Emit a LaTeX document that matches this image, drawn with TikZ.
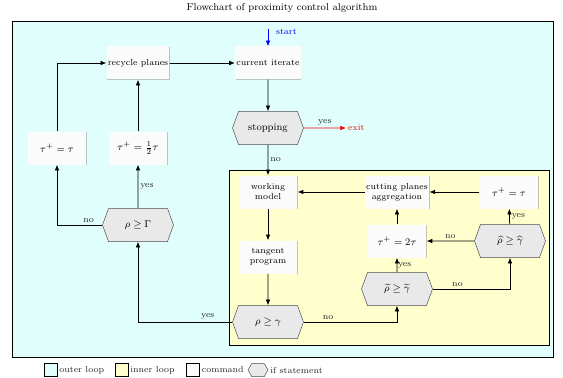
\documentclass[tikz,border=0pt]{standalone}
\usepackage{tikz}
\usetikzlibrary{positioning,shapes.symbols,arrows.meta,shadows}
\usepackage{amsmath}

\definecolor{outerbg}{RGB}{224,255,252}
\definecolor{innerbg}{RGB}{255,255,206}
\definecolor{cmdbg}{RGB}{251,251,251}
\definecolor{ifbg}{RGB}{233,233,233}

\begin{document}
\begin{tikzpicture}[
  x=0.8pt, y=-0.8pt,
  font=\scriptsize,
  outer/.style    = {draw, line width=0.8pt, fill=outerbg},
  inner/.style    = {draw, line width=0.8pt, fill=innerbg},
  command/.style  = {fill=cmdbg, minimum width=47pt, minimum height=26.4pt,
                     align=center, inner sep=1pt,
                     drop shadow={shadow xshift=0.5pt, shadow yshift=-0.7pt,
                                  opacity=0.45}},
  mathcmd/.style  = {command, font=\footnotesize},
  ifstmt/.style   = {draw=gray!60!black, fill=ifbg, signal,
                     signal to=west and east, signal pointer angle=140,
                     minimum width=56.8pt, minimum height=26.4pt,
                     inner sep=1pt, font=\footnotesize},
  flow/.style     = {-{Latex[length=1.6mm,width=1.3mm]}, line width=0.6pt},
  lbl/.style      = {font=\scriptsize, inner sep=1.5pt, text=black!85},
  keybox/.style   = {draw, minimum size=10.4pt, inner sep=0pt},
]
\useasboundingbox (0,0) rectangle (563,378);

\node[font=\footnotesize] (title) at (282,8)
      {Flowchart of proximity control algorithm};

% ===== loops (backgrounds) =====
\draw[outer] (12,22) rectangle (553,357);
\draw[inner] (229,170) rectangle (549,345);

% ===== outer loop =====
\coordinate (start) at (268,29);
\node[lbl, text=blue, anchor=west] at (274,32) {start};
\node[command] (curr)    at (268,63)  {current iterate};
\node[command] (recycle) at (138,63)  {recycle planes};
\node[ifstmt]  (stop)    at (268,128) {stopping};
\node[lbl, text=red, anchor=west] (exit) at (346,128) {exit};
\node[ifstmt]  (bigG)    at (138,225) {$\rho \geq \Gamma$};
\node[mathcmd] (halftau) at (138,148) {$\tau^+ = \frac{1}{2}\tau$};
\node[mathcmd] (samtau)  at (57,148)  {$\tau^+ = \tau$};

% ===== inner loop =====
\node[command] (model)   at (268,192) {working\\model};
\node[command] (tangent) at (268,257) {tangent\\program};
\node[ifstmt]  (rhogam)  at (268,322) {$\rho \geq \gamma$};
\node[ifstmt]  (tilde)   at (397,289)
      {$\widetilde{\rho} \geq \widetilde{\gamma}$};
\node[mathcmd] (twotau)  at (397,241) {$\tau^+ = 2\tau$};
\node[command] (aggr)    at (397,192) {cutting planes\\aggregation};
\node[mathcmd] (keeptau) at (509,192) {$\tau^+ = \tau$};
\node[ifstmt]  (hat)     at (510,241)
      {$\widehat{\rho} \geq \widehat{\gamma}$};

% ===== connectors =====
\draw[flow, blue] (start) -- (curr);
\draw[flow] (recycle) -- (curr);
\draw[flow] (curr) -- (stop);
\draw[flow, red] (stop) -- (exit)
   node[midway, above, lbl] {yes};
\draw[flow] (stop) -- (model)
   node[midway, right, lbl] {no};
\draw[flow] (model) -- (tangent);
\draw[flow] (tangent) -- (rhogam);
\draw[flow] (rhogam.east) -| (tilde.south)
   node[pos=0.13, above, lbl] {no};
\draw[flow] (rhogam.west) -| (bigG.south)
   node[pos=0.13, above, lbl] {yes};
\draw[flow] (tilde) -- (twotau)
   node[midway, right, lbl, inner sep=0.5pt] {yes};
\draw[flow] (tilde.east) -| (hat.south)
   node[pos=0.16, above, lbl] {no};
\draw[flow] (hat) -- (twotau)
   node[midway, above, lbl] {no};
\draw[flow] (hat) -- (keeptau)
   node[midway, right, lbl] {yes};
\draw[flow] (keeptau) -- (aggr);
\draw[flow] (twotau) -- (aggr);
\draw[flow] (aggr) -- (model);
\draw[flow] (bigG) -- (halftau)
   node[midway, right, lbl] {yes};
\draw[flow] (bigG.west) -| (samtau.south)
   node[pos=0.15, above, lbl] {no};
\draw[flow] (halftau) -- (recycle);
\draw[flow] (samtau.north) |- (recycle.west);

% ===== legend =====
\node[keybox, fill=outerbg] (kouter) at (50.5,370) {};
\node[lbl, right=0pt of kouter] {outer loop};
\node[keybox, fill=innerbg] (kinner) at (121.5,370) {};
\node[lbl, right=0pt of kinner] {inner loop};
\node[keybox, fill=cmdbg] (kcmd) at (193,370) {};
\node[lbl, right=0pt of kcmd] {command};
\node[draw=gray!60!black, fill=ifbg, signal, signal to=west and east,
      signal pointer angle=120, minimum width=16pt, minimum height=10.4pt,
      inner sep=0pt] (kif) at (258,370) {};
\node[lbl, right=0pt of kif] {if statement};

\end{tikzpicture}
\end{document}
